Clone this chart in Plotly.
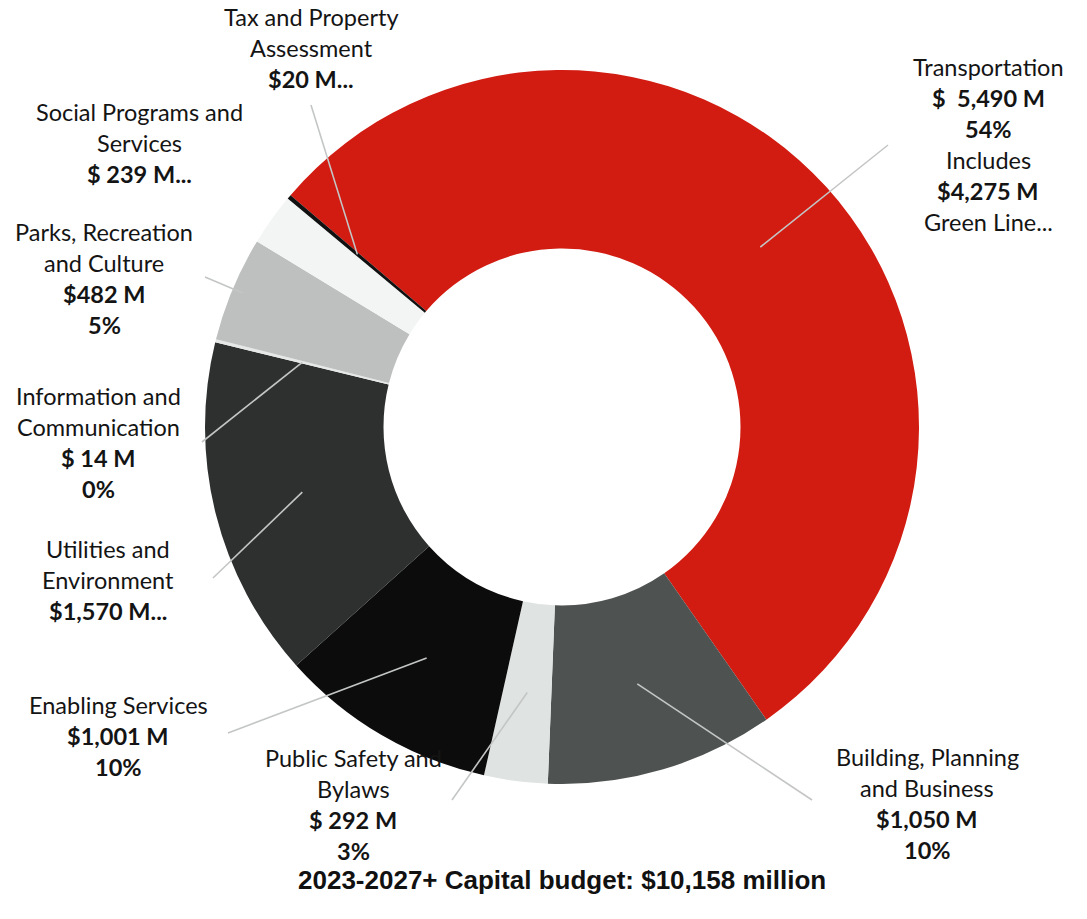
import math
import plotly.graph_objects as go

# Capital budget by service line, $ millions (clockwise from Transportation)
services = [
    "Transportation",
    "Building, Planning and Business",
    "Public Safety and Bylaws",
    "Enabling Services",
    "Utilities and Environment",
    "Information and Communication",
    "Parks, Recreation and Culture",
    "Social Programs and Services",
    "Tax and Property Assessment",
]
budget_m = [5490, 1050, 292, 1001, 1570, 14, 482, 239, 20]
slice_colors = ["#d21c12", "#4e5250", "#dfe3e2", "#0c0c0c", "#2e2f2f",
                "#e6e8e8", "#bdc0bf", "#f3f5f5", "#111111"]

# Label text lines per slice: (text, bold)
label_lines = {
    "Transportation": [("Transportation", False), ("$  5,490 M", True), ("54%", True),
                       ("Includes", False), ("$4,275 M", True), ("Green Line...", False)],
    "Building, Planning and Business": [("Building, Planning", False), ("and Business", False),
                                        ("$1,050 M", True), ("10%", True)],
    "Public Safety and Bylaws": [("Public Safety and", False), ("Bylaws", False),
                                 ("$ 292 M", True), ("3%", True)],
    "Enabling Services": [("Enabling Services", False), ("$1,001 M", True), ("10%", True)],
    "Utilities and Environment": [("Utilities and", False), ("Environment", False),
                                  ("$1,570 M...", True)],
    "Information and Communication": [("Information and", False), ("Communication", False),
                                      ("$ 14 M", True), ("0%", True)],
    "Parks, Recreation and Culture": [("Parks, Recreation", False), ("and Culture", False),
                                      ("$482 M", True), ("5%", True)],
    "Social Programs and Services": [("Social Programs and", False), ("Services", False),
                                     ("$ 239 M...", True)],
    "Tax and Property Assessment": [("Tax and Property", False), ("Assessment", False),
                                    ("$20 M...", True)],
}
title_text = "2023-2027+ Capital budget: $10,158 million"

# ---- layout geometry (pixels) ----
W, H = 1087, 919
CX, CY, R = 562, 427, 357
HOLE = 0.5
START_DEG = -49.5          # first slice starts here, measured clockwise from 12 o'clock
LINE_GAP = 31

# label block anchors: (center x, y of first line)
label_pos = {
    "Transportation": (988, 67),
    "Building, Planning and Business": (927, 757),
    "Public Safety and Bylaws": (353, 758),
    "Enabling Services": (118, 705),
    "Utilities and Environment": (108, 549),
    "Information and Communication": (98, 396),
    "Parks, Recreation and Culture": (104, 232),
    "Social Programs and Services": (139, 112),
    "Tax and Property Assessment": (311, 17),
}
# outer end of each leader line, and the radius fraction it starts from
leader_end = {
    "Transportation": (888, 145),
    "Building, Planning and Business": (812, 800),
    "Public Safety and Bylaws": (452, 800),
    "Enabling Services": (228, 733),
    "Utilities and Environment": (213, 578),
    "Information and Communication": (202, 442),
    "Parks, Recreation and Culture": (205, 277),
    "Tax and Property Assessment": (311, 105),
}
leader_start_r = {"Parks, Recreation and Culture": 0.97}


def px(x):
    return x / W


def py(y):
    return 1 - y / H


fig = go.Figure(go.Pie(
    labels=services,
    values=budget_m,
    sort=False,
    direction="clockwise",
    rotation=START_DEG,
    hole=HOLE,
    marker=dict(colors=slice_colors, line=dict(width=0)),
    textinfo="none",
    hoverinfo="label+value+percent",
    domain=dict(x=[px(CX - R), px(CX + R)], y=[py(CY + R), py(CY - R)]),
    showlegend=False,
))

# leader lines: from inside each ring segment out to its label
total = sum(budget_m)
shapes = []
cum = 0.0
for name, v in zip(services, budget_m):
    mid = START_DEG + (cum + v / 2) / total * 360
    cum += v
    if name not in leader_end:
        continue
    rr = R * leader_start_r.get(name, (1 + HOLE) / 2)
    x0 = CX + rr * math.sin(math.radians(mid))
    y0 = CY - rr * math.cos(math.radians(mid))
    x1, y1 = leader_end[name]
    shapes.append(dict(type="line", xref="paper", yref="paper",
                       x0=px(x0), y0=py(y0), x1=px(x1), y1=py(y1),
                       line=dict(color="#c4c6c6", width=1.6)))

annotations = []
for name, lines in label_lines.items():
    lx, ly = label_pos[name]
    for i, (t, bold) in enumerate(lines):
        annotations.append(dict(
            x=px(lx), y=py(ly + i * LINE_GAP), xref="paper", yref="paper",
            xanchor="center", yanchor="middle", showarrow=False,
            text=f"<b>{t}</b>" if bold else t,
            font=dict(family="Lato, Open Sans, sans-serif", size=23.5, color="#141414"),
        ))

annotations.append(dict(
    x=px(562), y=py(880), xref="paper", yref="paper",
    xanchor="center", yanchor="middle", showarrow=False,
    text=f"<b>{title_text}</b>",
    font=dict(family="Liberation Sans, Arial, sans-serif", size=26, color="#111111"),
))

fig.update_layout(
    width=W, height=H,
    margin=dict(l=0, r=0, t=0, b=0),
    paper_bgcolor="white", plot_bgcolor="white",
    shapes=shapes, annotations=annotations,
)

fig.write_html("out.html")
